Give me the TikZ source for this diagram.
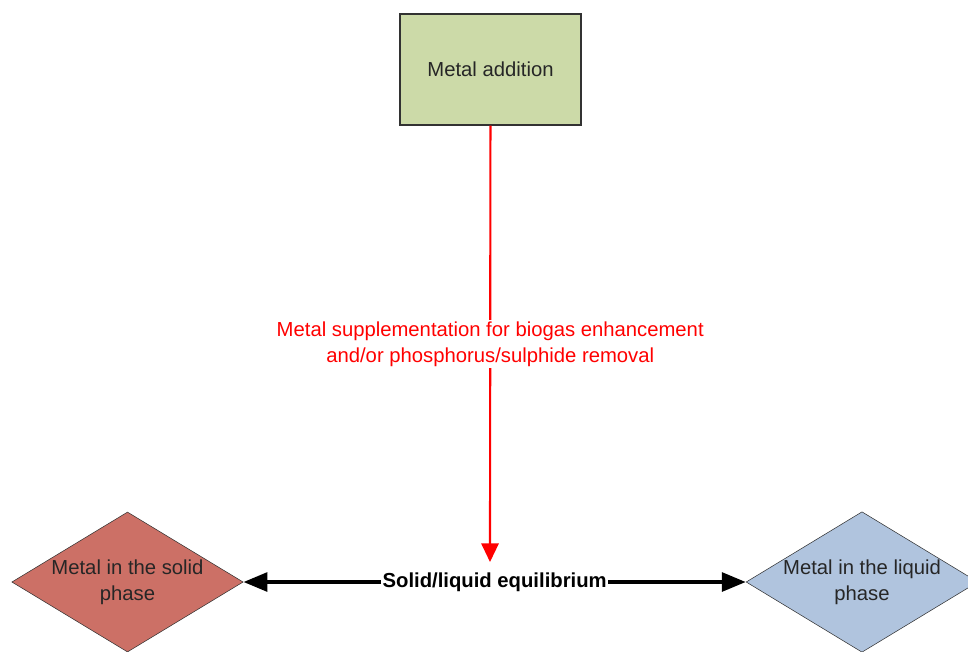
\documentclass[tikz,border=0pt]{standalone}
\usepackage{fontspec}
\setmainfont{Liberation Sans}
\usetikzlibrary{shapes.geometric, arrows.meta}

\definecolor{addgreen}{RGB}{204,218,168}
\definecolor{solidred}{RGB}{204,112,102}
\definecolor{liquidblue}{RGB}{176,196,222}
\definecolor{edgegray}{RGB}{50,50,50}

\begin{document}
\begin{tikzpicture}[x=0.75pt, y=-0.75pt,
    every node/.style={font=\fontsize{15.2}{19.5}\selectfont, text=black!85},
    box/.style={draw=edgegray, thick, fill=addgreen, minimum width=135.75pt, minimum height=83.25pt},
    phase/.style={diamond, draw=edgegray, fill=#1, aspect=1.65, inner sep=0pt,
                  minimum width=173.5pt, minimum height=105pt, align=center},
    supply/.style={draw=red, line width=1.6pt, -{Triangle[length=14pt, width=13pt]}},
    balance/.style={draw=black, line width=3pt, {Triangle[length=18pt, width=14pt]}-{Triangle[length=18pt, width=14pt]}}]
   \useasboundingbox (0,0) rectangle (968,651);

   \node[box] (add) at (490.5,69.5) {Metal addition};
   \node[phase=solidred] (solid) at (127.5,582) {Metal in the solid\\phase};
   \node[phase=liquidblue] (liquid) at (862,582) {Metal in the liquid\\phase};
   \coordinate (tip) at (490,562);

   \draw[supply] (add) -- node[fill=white, text=red, align=center, inner sep=1pt]
       {Metal supplementation for biogas enhancement\\and/or phosphorus/sulphide removal} (tip);
   \draw[balance] (solid.east) -- node[fill=white, text=black, inner sep=1pt]
       {\bfseries Solid/liquid equilibrium} (liquid.west);
\end{tikzpicture}
\end{document}
